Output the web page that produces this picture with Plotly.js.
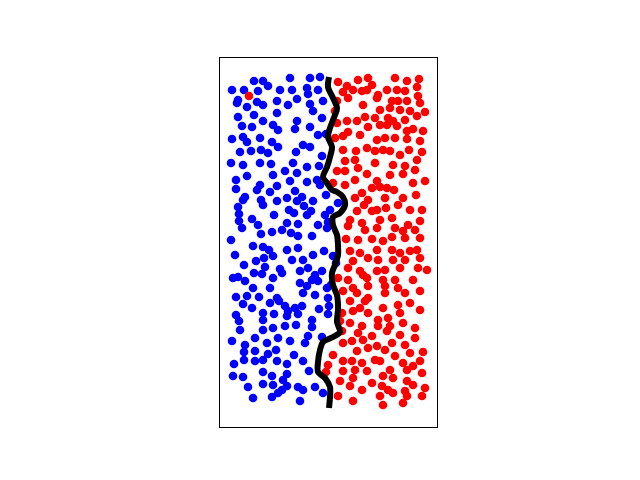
<!DOCTYPE html>
<html>
<head>
<meta charset="utf-8">
<script src="https://cdn.plot.ly/plotly-3.0.1.min.js"></script>
<style>html,body{margin:0;padding:0;background:#fff;}#chart{width:640px;height:480px;}</style>
</head>
<body>
<div id="chart"></div>
<script>
// Class A (blue) points
const blueX = [70,90,100,34,43,48,12,24,38,60,72,87,98,88,18,17,27,37,43,57,68,77,90,93,103,57,18,34,43,77,102,22,32,53,58,75,90,12,23,27,40,52,58,83,90,98,106,
20,31,41,48,76,102,11,23,40,51,73,87,99,65,77,16,27,53,70,87,97,16,40,37,50,57,75,100,106,25,23,41,43,57,67,77,82,93,18,19,19,32,54,69,74,84,87,91,105,118,110,108,
22,38,41,52,62,67,71,78,78,92,98,107,11,
33,43,49,67,78,93,104,15,36,44,53,72,83,24,45,60,62,80,88,95,102,13,18,25,34,42,53,80,92,98,33,50,83,87,95,107,16,27,39,57,59,50,23,32,65,68,75,82,99,16,19,43,43,54,67,78,92,20,43,53,65,76,92,
113,116,111,108,109,108,
88,12,25,35,47,58,70,85,102,24,35,48,56,74,14,24,35,43,57,67,83,13,23,43,52,63,67,89,28,43,53,62,67,78,83,95,103,33,52,58,80];
const blueY = [349,349,350,346,346,341,337,337,336,337,337,339,337,333,327,324,320,325,322,326,322,328,323,316,326,314,310,312,306,306,309,301,300,302,297,298,300,288,290,285,289,285,280,282,280,292,293,
275,276,277,274,275,271,264,262,264,263,264,260,261,256,254,247,251,252,246,245,247,238,242,237,235,241,236,242,232,230,227,227,222,226,229,226,230,226,220,213,206,208,212,217,214,221,212,216,212,224,217,205,
199,202,193,195,197,204,194,203,191,191,202,199,187,
181,180,177,177,179,172,176,172,166,169,171,167,167,162,160,158,154,156,159,152,156,149,150,146,154,153,149,144,147,146,139,139,134,141,132,139,130,131,130,129,126,124,123,119,121,116,119,121,118,112,106,114,107,113,111,113,107,97,97,99,101,102,100,
171,164,142,129,121,113,
91,86,82,89,84,89,86,84,90,75,76,73,77,72,63,67,66,67,66,63,66,51,50,55,51,47,53,56,40,43,42,37,41,40,37,40,34,29,30,34,26];

// Class B (red) points
const redX = [29,
118,127,138,148,152,175,187,199,123,133,142,147,158,167,177,185,197,128,143,157,172,178,187,198,200,117,160,170,180,190,205,115,127,137,145,155,168,173,185,197,117,148,160,167,177,187,193,203,123,128,140,157,165,175,187,200,115,
123,136,147,155,163,170,180,189,202,
125,135,138,155,173,185,197,117,125,147,170,183,195,135,157,113,125,152,160,167,174,193,205,142,135,148,165,183,196,144,137,152,157,166,178,190,202,130,142,160,172,188,200,128,145,157,175,183,195,
126,138,152,163,172,185,200,
130,140,157,172,180,190,197,133,148,158,173,185,200,128,140,143,157,165,180,198,207,118,128,147,163,175,193,133,148,165,178,123,137,148,165,185,200,130,140,145,163,178,190,122,133,148,158,168,180,200,120,130,142,158,170,183,195,
122,138,152,167,180,195,123,132,143,157,172,185,113,137,148,165,175,190,203,108,123,132,142,155,160,183,193,200,123,135,147,170,187,202,133,152,163,173,187,193,120,130,142,162,168,185,205,118,160,173,187,202,133,163,183,106];
const redY = [331,
345,341,347,349,342,349,346,348,335,337,336,337,332,337,337,336,340,329,322,329,326,326,326,331,324,326,317,319,317,316,315,316,306,306,310,309,309,306,307,311,304,300,302,302,301,296,298,296,291,295,292,287,289,289,288,286,289,
277,276,279,276,277,276,272,277,275,
266,267,259,264,262,261,267,256,256,253,252,253,257,247,246,244,242,239,240,239,237,244,246,234,229,227,229,229,232,222,216,216,217,219,222,217,217,207,204,207,209,202,206,201,197,199,199,196,197,
188,187,188,186,190,189,189,
176,174,177,177,174,176,177,166,169,167,167,167,169,159,156,152,156,157,159,159,157,149,147,149,147,147,147,139,141,141,139,136,134,129,134,134,136,126,119,126,119,122,124,114,116,114,107,109,114,117,106,104,101,101,101,104,99,
96,94,91,96,92,89,84,86,87,81,84,82,72,76,79,77,71,74,75,62,66,66,64,67,66,64,61,66,56,57,56,57,57,54,49,44,51,49,46,42,46,41,37,41,37,36,39,31,31,34,31,31,26,22,24,55];

// Decision boundary
const boundX = [109,108,113,117,113,110,108,112,110,107,103,107,112,117,123,125,120,113,113,117,118,118,115,112,113,117,118,118,117,120,113,103,100,98,98,105,110,110,109];
const boundY = [350,340,329,319,307,299,290,280,270,260,250,244,237,235,230,222,214,210,202,192,182,172,162,154,142,132,122,117,105,95,90,85,77,65,55,49,40,30,19];

const traces = [
  {x: blueX, y: blueY, type: 'scatter', mode: 'markers', marker: {color: '#0000ff', size: 8.6, line: {width: 0}}, hoverinfo: 'skip'},
  {x: redX, y: redY, type: 'scatter', mode: 'markers', marker: {color: '#ff0000', size: 8.6, line: {width: 0}}, hoverinfo: 'skip'},
  {x: boundX, y: boundY, type: 'scatter', mode: 'lines', line: {color: '#000000', width: 6, shape: 'spline', smoothing: 0.8}, hoverinfo: 'skip'}
];

const axisCommon = {showgrid: false, zeroline: false, showticklabels: false, ticks: '', showline: true, mirror: true, linecolor: '#000000', linewidth: 1};

const layout = {
  width: 640, height: 480,
  margin: {l: 220, r: 203, t: 58, b: 53, pad: 0},
  paper_bgcolor: '#ffffff', plot_bgcolor: '#ffffff',
  showlegend: false,
  xaxis: Object.assign({range: [0, 217]}, axisCommon),
  yaxis: Object.assign({range: [0, 369]}, axisCommon)
};

Plotly.newPlot('chart', traces, layout, {staticPlot: true, displayModeBar: false});
</script>
</body>
</html>
